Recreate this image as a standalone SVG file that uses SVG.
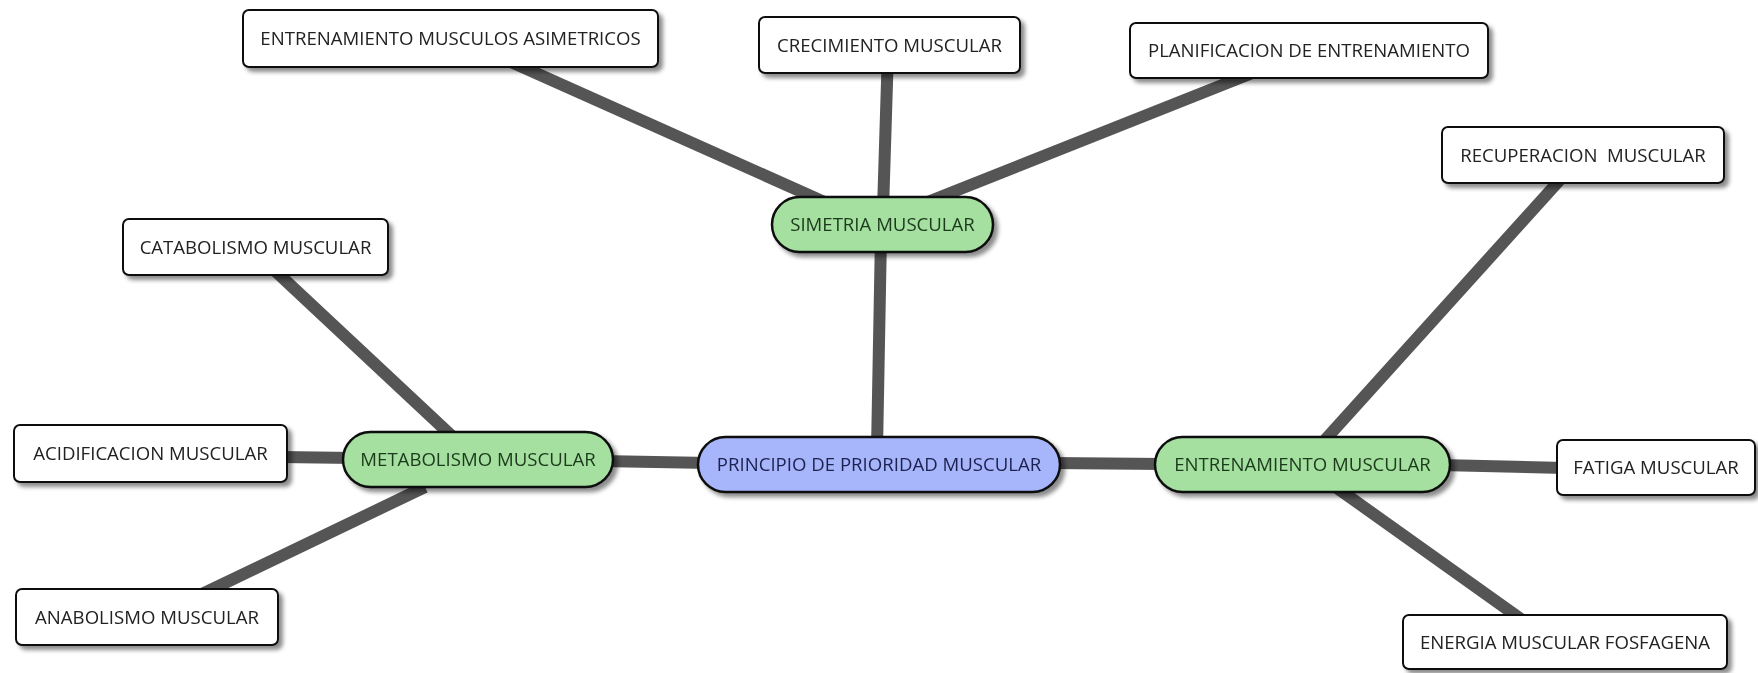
<svg xmlns="http://www.w3.org/2000/svg" width="1758" height="673" viewBox="0 0 1758 673">
<defs>
<filter id="sh" x="-10%" y="-30%" width="125%" height="170%"><feDropShadow dx="4" dy="4" stdDeviation="2" flood-color="#000" flood-opacity="0.45"/></filter>
<style>
.ln{stroke:#555;stroke-width:12;fill:none;stroke-linecap:butt}
.box{fill:#fff;stroke:#111;stroke-width:2}
.grn{fill:#a5e0a0;stroke:#111;stroke-width:2.5}
.ctr{fill:#a7b5fb;stroke:#111;stroke-width:2.5}
text{font-family:"Open Sans","Noto Sans",sans-serif;font-size:18.6px;text-anchor:middle}
.tb{fill:#222}
.tg{fill:#1c3a1c}
.tc{fill:#1e2250}
</style>
</defs>
<rect width="1758" height="673" fill="#fff"/>
<g id="connectors">
<line class="ln" x1="877" y1="450" x2="881" y2="235"/>
<line class="ln" x1="883" y1="210" x2="888" y2="50"/>
<line class="ln" x1="840" y1="209" x2="500" y2="57"/>
<line class="ln" x1="915" y1="207" x2="1265" y2="68"/>
<line class="ln" x1="600" y1="461" x2="710" y2="463"/>
<line class="ln" x1="1050" y1="463" x2="1165" y2="464"/>
<line class="ln" x1="280" y1="457" x2="355" y2="458"/>
<line class="ln" x1="270" y1="266" x2="455" y2="439"/>
<line class="ln" x1="425" y1="487" x2="200" y2="595"/>
<line class="ln" x1="1315" y1="451" x2="1567" y2="172"/>
<line class="ln" x1="1330" y1="483" x2="1528" y2="624"/>
<line class="ln" x1="1440" y1="465" x2="1565" y2="468"/>
</g>
<g id="central" filter="url(#sh)"><rect class="ctr" x="698" y="437" width="362" height="55" rx="27.5"/><text class="tc" x="879" y="471">PRINCIPIO DE PRIORIDAD MUSCULAR</text></g>
<g id="simetria" filter="url(#sh)"><rect class="grn" x="772" y="197" width="221" height="55" rx="27.5"/><text class="tg" x="882.5" y="231">SIMETRIA MUSCULAR</text></g>
<g id="metabolismo" filter="url(#sh)"><rect class="grn" x="343" y="432" width="270" height="55" rx="27.5"/><text class="tg" x="478" y="466">METABOLISMO MUSCULAR</text></g>
<g id="entrenamiento" filter="url(#sh)"><rect class="grn" x="1155" y="437" width="295" height="55" rx="27.5"/><text class="tg" x="1302.5" y="471">ENTRENAMIENTO MUSCULAR</text></g>
<g id="asimetricos" filter="url(#sh)"><rect class="box" x="243" y="10" width="415" height="57" rx="6"/><text class="tb" x="450.5" y="45">ENTRENAMIENTO MUSCULOS ASIMETRICOS</text></g>
<g id="crecimiento" filter="url(#sh)"><rect class="box" x="759" y="17" width="261" height="56" rx="6"/><text class="tb" x="889.5" y="51.5">CRECIMIENTO MUSCULAR</text></g>
<g id="planificacion" filter="url(#sh)"><rect class="box" x="1130" y="23" width="358" height="55" rx="6"/><text class="tb" x="1309" y="57">PLANIFICACION DE ENTRENAMIENTO</text></g>
<g id="recuperacion" filter="url(#sh)"><rect class="box" x="1442" y="127" width="282" height="56" rx="6"/><text class="tb" x="1583" y="161.5" xml:space="preserve">RECUPERACION  MUSCULAR</text></g>
<g id="catabolismo" filter="url(#sh)"><rect class="box" x="123" y="219" width="265" height="56" rx="6"/><text class="tb" x="255.5" y="253.5">CATABOLISMO MUSCULAR</text></g>
<g id="acidificacion" filter="url(#sh)"><rect class="box" x="14" y="425" width="273" height="57" rx="6"/><text class="tb" x="150.5" y="460">ACIDIFICACION MUSCULAR</text></g>
<g id="anabolismo" filter="url(#sh)"><rect class="box" x="16" y="589" width="262" height="56" rx="6"/><text class="tb" x="147" y="623.5">ANABOLISMO MUSCULAR</text></g>
<g id="fatiga" filter="url(#sh)"><rect class="box" x="1557" y="440" width="198" height="55" rx="6"/><text class="tb" x="1656" y="474">FATIGA MUSCULAR</text></g>
<g id="energia" filter="url(#sh)"><rect class="box" x="1403" y="615" width="324" height="54" rx="6"/><text class="tb" x="1565" y="648.5">ENERGIA MUSCULAR FOSFAGENA</text></g>
</svg>
